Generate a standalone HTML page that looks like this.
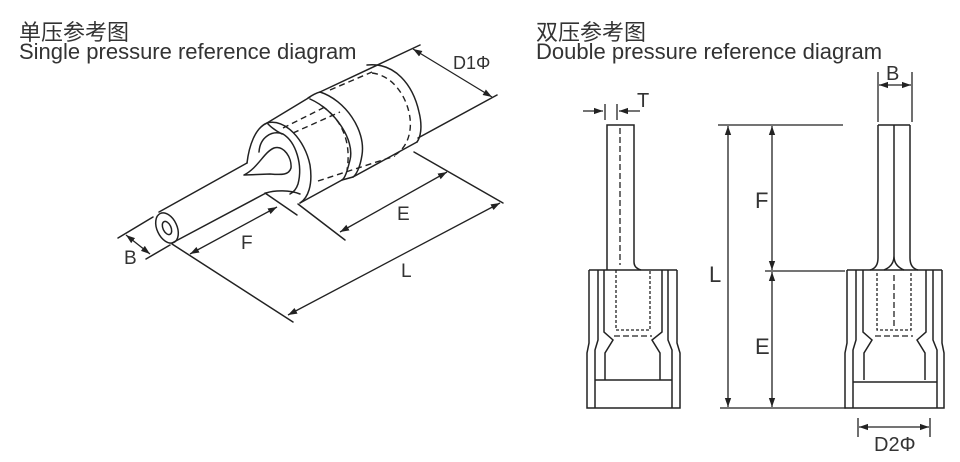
<!DOCTYPE html>
<html><head><meta charset="utf-8"><style>
html,body{margin:0;padding:0;background:#fff;}
svg{display:block;}
text{font-family:"Liberation Sans","Noto Sans CJK SC",sans-serif;fill:#333;}
</style></head><body>
<svg width="960" height="462" viewBox="0 0 960 462" xmlns="http://www.w3.org/2000/svg">
<defs>
<marker id="a" viewBox="0 0 10 10" refX="10" refY="5" markerWidth="7" markerHeight="7" orient="auto-start-reverse"><path d="M0,1.5 L10,5 L0,8.5 Z" fill="#222"/></marker>
</defs>
<text x="19" y="40" font-size="22">单压参考图</text>
<text x="19" y="59" font-size="22">Single pressure reference diagram</text>
<text x="536" y="40" font-size="22">双压参考图</text>
<text x="536" y="59" font-size="22">Double pressure reference diagram</text>

<g fill="none" stroke="#222" stroke-width="1.5" stroke-linecap="round">
<ellipse cx="167" cy="228" rx="10" ry="16" transform="rotate(-25 167 228)"/>
<ellipse cx="167" cy="228" rx="4" ry="7" transform="rotate(-25 167 228)"/>
<line x1="159" y1="212" x2="247" y2="163"/>
<line x1="172" y1="243" x2="266" y2="193"/>
<path d="M247,163 C249,146 255,128 267,123 C285,118 305,140 310,165 C313,185 308,198 300,203"/>
<path d="M266,193 C275,190 290,190 300,194"/>
<path d="M259,152 C260,137 272,130 283,134 C296,142 303,165 298,184 C296,190 292,193 290,194"/>
<path d="M244,175 C258,168 264,152 274,148 C284,145 292,158 291,168 C289,175 282,175 270,174 L244,175"/>
<path d="M268,124 C272,128 276,131 282,134"/>
<line x1="267" y1="123" x2="310" y2="97"/>
<line x1="300" y1="203" x2="342" y2="180"/>
<path d="M308,98 C311,96 316,93 320,92"/>
<path d="M310,99 C335,110 355,140 350,160 C347,172 345,178 342,180"/>
<path d="M320,92 C345,100 366,130 362,155 C360,168 356,175 353,177"/>
<line x1="342" y1="180" x2="353" y2="177"/>
<line x1="320" y1="92" x2="420" y2="45"/>
<path d="M367,65 C395,62 413,85 419,112 C423,128 420,138 417,142"/>
<line x1="353" y1="177" x2="417" y2="142"/>
<line x1="418" y1="138" x2="497" y2="95"/>
<line x1="414" y1="152" x2="503" y2="203"/>
<line x1="265" y1="193" x2="297" y2="215"/>
<line x1="298" y1="204" x2="345" y2="240"/>
<line x1="172" y1="244" x2="293" y2="322"/>
<line x1="153" y1="217" x2="118" y2="238"/>
<line x1="170" y1="245" x2="146" y2="259"/>
</g>
<g fill="none" stroke="#222" stroke-width="1.4" stroke-dasharray="6,4">
<line x1="283" y1="128" x2="327" y2="106"/>
<line x1="293" y1="133" x2="340" y2="112"/>
<line x1="330" y1="90" x2="372" y2="72"/>
<path d="M372,73 C398,76 413,108 410,130 C408,145 400,152 395,155"/>
<line x1="318" y1="181" x2="395" y2="156"/>
<path d="M322,106 C340,118 352,140 347,170"/>
</g>
<g fill="none" stroke="#222" stroke-width="1.3" marker-start="url(#a)" marker-end="url(#a)">
<line x1="413" y1="49" x2="492" y2="97"/>
<line x1="126" y1="235" x2="150" y2="254"/>
<line x1="190" y1="254" x2="277" y2="207"/>
<line x1="340" y1="232" x2="447" y2="172"/>
<line x1="288" y1="315" x2="500" y2="203"/>
</g>
<text x="453" y="69" font-size="18">D1Φ</text>
<text x="124" y="264" font-size="19">B</text>
<text x="241" y="249" font-size="19">F</text>
<text x="397" y="220" font-size="19">E</text>
<text x="401" y="277" font-size="19">L</text>

<g fill="none" stroke="#222" stroke-width="1.5">
<path d="M607,270 L607,125 L634,125 L634,262 Q634,268 641,270"/>
<path d="M589,270 L677,270 M589,270 L589,343 L587,353 L587,408 L680,408 L680,353 L677,343 L677,270"/>
<path d="M598,270 L598,340 L595,350 L595,408 M668,270 L668,340 L672,350 L672,408"/>
<path d="M604,270 L604,332 L613,340 L605,353 L605,380 M662,270 L662,332 L652,340 L660,353 L660,380"/>
<line x1="595" y1="380" x2="672" y2="380"/>
</g>
<g fill="none" stroke="#222" stroke-width="1.3" stroke-dasharray="3,2">
<path d="M616,270 L616,330 L650,330 L650,270"/>
</g>
<g fill="none" stroke="#222" stroke-width="1.3" stroke-dasharray="6,3">
<line x1="620" y1="128" x2="620" y2="265"/>
<line x1="614" y1="336" x2="652" y2="336"/>
</g>
<g stroke="#222" stroke-width="1.3" fill="none">
<line x1="605" y1="104" x2="605" y2="120"/>
<line x1="617" y1="104" x2="617" y2="120"/>
<line x1="583" y1="111" x2="603" y2="111" marker-end="url(#a)"/>
<line x1="640" y1="111" x2="619" y2="111" marker-end="url(#a)"/>
<line x1="718" y1="125" x2="843" y2="125"/>
<line x1="765" y1="271" x2="845" y2="271"/>
<line x1="720" y1="408" x2="846" y2="408"/>
<line x1="728" y1="126" x2="728" y2="407" marker-start="url(#a)" marker-end="url(#a)"/>
<line x1="772" y1="126" x2="772" y2="270" marker-start="url(#a)" marker-end="url(#a)"/>
<line x1="772" y1="272" x2="772" y2="407" marker-start="url(#a)" marker-end="url(#a)"/>
</g>
<text x="637" y="107" font-size="20">T</text>
<text x="709" y="282" font-size="22">L</text>
<text x="755" y="208" font-size="22">F</text>
<text x="755" y="354" font-size="22">E</text>

<g fill="none" stroke="#222" stroke-width="1.5">
<path d="M878,125 L910,125 M878,125 L878,258 Q878,268 870,270 M910,125 L910,258 Q910,268 918,270"/>
<path d="M894,125 L894,256 Q894,266 884,270 M894,256 Q894,266 904,270"/>
<path d="M847,270 L942,270 M847,270 L847,343 L845,353 L845,408 L944,408 L944,353 L942,343 L942,270"/>
<path d="M856,270 L856,340 L853,350 L853,408 M933,270 L933,340 L937,350 L937,408"/>
<path d="M863,270 L863,332 L872,340 L864,353 L864,380 M926,270 L926,332 L917,340 L925,353 L925,380"/>
<line x1="853" y1="382" x2="937" y2="382"/>
</g>
<g fill="none" stroke="#222" stroke-width="1.3" stroke-dasharray="3,2">
<path d="M877,273 L877,330 L911,330 L911,273"/>
</g>
<g fill="none" stroke="#222" stroke-width="1.3" stroke-dasharray="6,3">
<line x1="894" y1="275" x2="894" y2="328"/>
<line x1="875" y1="336" x2="913" y2="336"/>
</g>
<g stroke="#222" stroke-width="1.3" fill="none">
<line x1="878" y1="72" x2="878" y2="122"/>
<line x1="912" y1="72" x2="912" y2="122"/>
<line x1="879" y1="85" x2="911" y2="85" marker-start="url(#a)" marker-end="url(#a)"/>
<line x1="858" y1="418" x2="858" y2="437"/>
<line x1="930" y1="418" x2="930" y2="437"/>
<line x1="859" y1="427" x2="929" y2="427" marker-start="url(#a)" marker-end="url(#a)"/>
</g>
<text x="886" y="80" font-size="20">B</text>
<text x="874" y="451" font-size="20">D2Φ</text>
</svg>
</body></html>
